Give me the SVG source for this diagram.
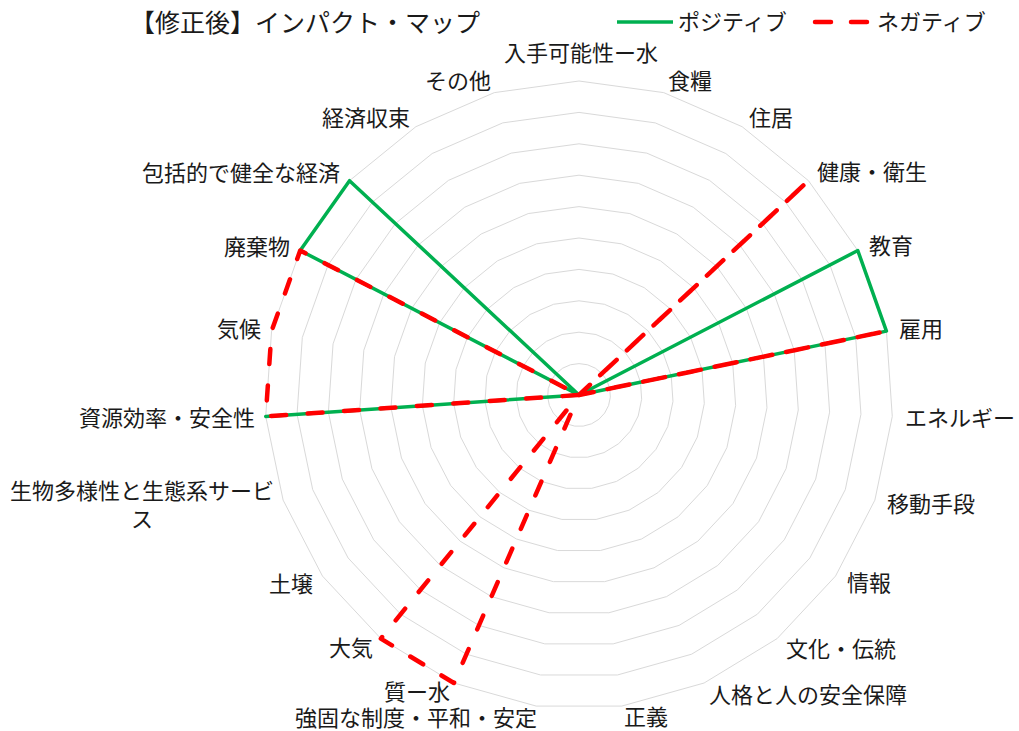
<svg xmlns="http://www.w3.org/2000/svg" xmlns:xlink="http://www.w3.org/1999/xlink" width="1019" height="731" viewBox="0 0 1019 731">
<style>
.t{font-family:"Noto Sans CJK JP","Noto Sans",sans-serif;font-size:22px;fill:#1a1a1a;text-anchor:middle}
.ring{fill:none;stroke:#d9d9d9;stroke-width:1;vector-effect:non-scaling-stroke}
.pos{fill:none;stroke:#00b050;stroke-width:3.5;stroke-linejoin:round;stroke-linecap:round}
.neg{fill:none;stroke:#ff0000;stroke-width:4.5;stroke-linejoin:round;stroke-linecap:round;stroke-dasharray:15 21.5}
</style>
<defs>
<polygon id="ring" class="ring" points="0,-314 84.72,-302.36 163.15,-268.29 229.48,-214.32 278.8,-144.46 307.43,-63.89 313.27,21.43 295.87,105.15 256.53,181.08 198.16,243.57 125.1,288 42.76,311.08 -42.76,311.08 -125.1,288 -198.16,243.57 -256.53,181.08 -295.87,105.15 -313.27,21.43 -307.43,-63.89 -278.8,-144.46 -229.48,-214.32 -163.15,-268.29 -84.72,-302.36"/>
</defs>
<rect width="1019" height="731" fill="#ffffff"/>
<g id="grid">
<use xlink:href="#ring" transform="translate(579 395) scale(0.1)"/>
<use xlink:href="#ring" transform="translate(579 395) scale(0.2)"/>
<use xlink:href="#ring" transform="translate(579 395) scale(0.3)"/>
<use xlink:href="#ring" transform="translate(579 395) scale(0.4)"/>
<use xlink:href="#ring" transform="translate(579 395) scale(0.5)"/>
<use xlink:href="#ring" transform="translate(579 395) scale(0.6)"/>
<use xlink:href="#ring" transform="translate(579 395) scale(0.7)"/>
<use xlink:href="#ring" transform="translate(579 395) scale(0.8)"/>
<use xlink:href="#ring" transform="translate(579 395) scale(0.9)"/>
<use xlink:href="#ring" transform="translate(579 395) scale(1)"/>
</g>
<g id="connectors">
<path id="positive" class="pos" d="M579,395 L857.8,250.54 L886.43,331.11 L579,395 L265.73,416.43 L579,395 L300.2,250.54 L349.52,180.68 Z"/>
<path id="negative" class="neg" d="M579,395 L808.48,180.68 L579,395 L886.43,331.11 L579,395 L453.9,683 L380.84,638.57 L579,395 L265.73,416.43 L271.57,331.11 L300.2,250.54 Z"/>
</g>
<g id="title"><text class="t" x="305" y="32" style="font-size:25px">【修正後】インパクト・マップ</text></g>
<g id="legend">
<line x1="617" y1="22" x2="673" y2="22" stroke="#00b050" stroke-width="3.5"/>
<text class="t" x="678" y="30" style="text-anchor:start">ポジティブ</text>
<line x1="815" y1="22" x2="867" y2="22" stroke="#ff0000" stroke-width="4.5" stroke-linecap="round" stroke-dasharray="16 20"/>
<text class="t" x="877" y="30" style="text-anchor:start">ネガティブ</text>
</g>
<g id="labels">
<g id="ax0"><text class="t" x="581" y="61">入手可能性ー水</text></g>
<g id="ax1"><text class="t" x="690" y="89">食糧</text></g>
<g id="ax2"><text class="t" x="771" y="126">住居</text></g>
<g id="ax3"><text class="t" x="872" y="180">健康・衛生</text></g>
<g id="ax4"><text class="t" x="891" y="254">教育</text></g>
<g id="ax5"><text class="t" x="921" y="337">雇用</text></g>
<g id="ax6"><text class="t" x="960" y="426">エネルギー</text></g>
<g id="ax7"><text class="t" x="931" y="512">移動手段</text></g>
<g id="ax8"><text class="t" x="869" y="591">情報</text></g>
<g id="ax9"><text class="t" x="841" y="657">文化・伝統</text></g>
<g id="ax10"><text class="t" x="808" y="703">人格と人の安全保障</text></g>
<g id="ax11"><text class="t" x="646" y="725">正義</text></g>
<g id="ax12"><text class="t" x="416" y="726">強固な制度・平和・安定</text></g>
<g id="ax13"><text class="t" x="417" y="700">質ー水</text></g>
<g id="ax14"><text class="t" x="351" y="656">大気</text></g>
<g id="ax15"><text class="t" x="291" y="592">土壌</text></g>
<g id="ax16"><text class="t" x="142" y="499">生物多様性と生態系サービ</text><text class="t" x="142" y="527">ス</text></g>
<g id="ax17"><text class="t" x="167" y="426">資源効率・安全性</text></g>
<g id="ax18"><text class="t" x="239" y="337">気候</text></g>
<g id="ax19"><text class="t" x="257" y="255">廃棄物</text></g>
<g id="ax20"><text class="t" x="241" y="181">包括的で健全な経済</text></g>
<g id="ax21"><text class="t" x="366" y="126">経済収束</text></g>
<g id="ax22"><text class="t" x="458" y="89">その他</text></g>
</g>
</svg>
